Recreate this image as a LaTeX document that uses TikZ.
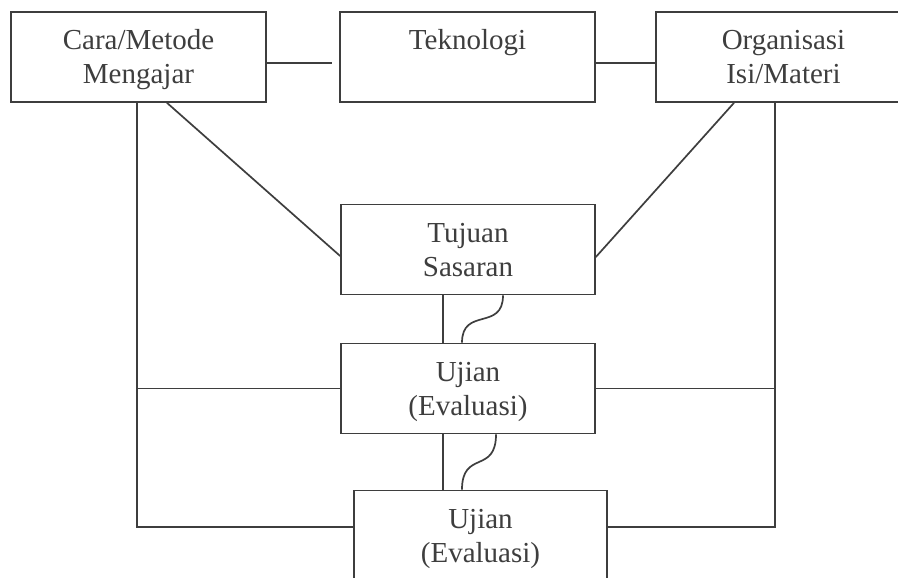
\documentclass[tikz,border=0pt]{standalone}
\usepackage{fontspec}
\setmainfont{Liberation Serif}
\definecolor{ink}{RGB}{62,62,62}
\newcommand{\lnstrut}{\rule[-7pt]{0pt}{34pt}}
\begin{document}
\begin{tikzpicture}[x=1pt,y=-1pt,
  box/.style={draw=ink, line width=1.7pt, rectangle, inner sep=0pt,
    minimum width=#1, minimum height=90pt, align=center, text=ink,
    font=\fontsize{29}{34}\selectfont},
  box/.default=255pt,
  conn/.style={draw=ink, line width=1.7pt}]
\useasboundingbox (0,0) rectangle (898,578);
\clip (0,0) rectangle (898,578);
\fill[white] (0,0) rectangle (898,578);

\node[box] (A) at (138.5,57) {\lnstrut Cara/Metode\\\lnstrut Mengajar};
\node[box] (B) at (467.5,57) {\lnstrut Teknologi\\\lnstrut};
\node[box] (C) at (783.5,57) {\lnstrut Organisasi\\\lnstrut Isi/Materi};
\node[box=254pt] (T) at (468,249.5) {\lnstrut Tujuan\\\lnstrut Sasaran};
\node[box=254pt] (U1) at (468,388.5) {\lnstrut Ujian\\\lnstrut (Evaluasi)};
\node[box=253pt] (U2) at (480.5,535.5) {\lnstrut Ujian\\\lnstrut (Evaluasi)};

\coordinate (La) at ([xshift=-1.5pt]A.south);
\coordinate (Rc) at ([xshift=-8.5pt]C.south);

% top row links
\draw[conn, shorten >=7pt] ([yshift=-6pt]A.east) -- ([yshift=-6pt]B.west);
\draw[conn] ([yshift=-6pt]B.east) -- ([yshift=-6pt]C.west);

% diagonals to Tujuan
\draw[conn] ([xshift=28.5pt]A.south) -- ([yshift=-6.5pt]T.west);
\draw[conn] ([xshift=-49.5pt]C.south) -- ([yshift=-7.5pt]T.east);

% outer verticals
\draw[conn] (La) |- ([yshift=8.5pt]U2.west);
\draw[conn] (Rc) |- ([yshift=8.5pt]U2.east);
\draw[conn] (U1.west) -- (U1.west -| La);
\draw[conn] (U1.east) -- (U1.east -| Rc);

% Tujuan -- Ujian
\draw[conn] ([xshift=-25pt]T.south) -- ([xshift=-25pt]U1.north);
\draw[conn] ([xshift=35pt]T.south) .. controls +(0,36) and +(0,-36) .. ([xshift=-6pt]U1.north);

% Ujian -- Ujian
\draw[conn] ([xshift=-25pt]U1.south) -- ([xshift=-25pt]U1.south |- U2.north);
\draw[conn] ([xshift=28pt]U1.south) .. controls +(0,40) and +(0,-40) .. ([xshift=-18.5pt]U2.north);
\end{tikzpicture}
\end{document}
